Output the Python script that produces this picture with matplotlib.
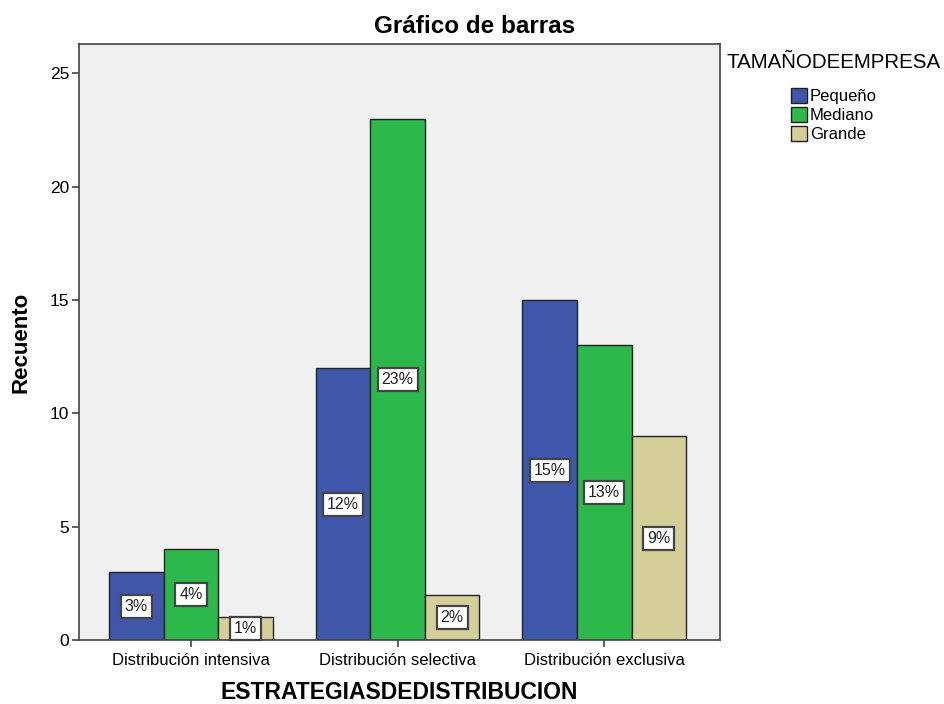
import numpy as np
import matplotlib.pyplot as plt

plt.rcParams['font.family'] = ['Liberation Sans', 'DejaVu Sans']

categories = ['Distribución intensiva', 'Distribución selectiva', 'Distribución exclusiva']
series_names = ['Pequeño', 'Mediano', 'Grande']
pequeno = [3, 12, 15]
mediano = [4, 23, 13]
grande = [1, 2, 9]
pequeno_lbl = ['3%', '12%', '15%']
mediano_lbl = ['4%', '23%', '13%']
grande_lbl = ['1%', '2%', '9%']
colors = ['#3e57ab', '#2db84b', '#d4cf98']


def main():
	fig = plt.figure(figsize=(9.44, 7.04), dpi=100)
	ax = fig.add_axes([0.0837, 0.0909, 0.679, 0.8466])
	ax.set_facecolor('#f0f0f0')

	x = np.arange(len(categories))
	w = 0.264
	values = [pequeno, mediano, grande]
	labels = [pequeno_lbl, mediano_lbl, grande_lbl]
	for i in range(3):
		bars = ax.bar(x + (i - 1) * w, values[i], w, color=colors[i], edgecolor='#222222',
			linewidth=1, label=series_names[i], zorder=2)
		for b, t in zip(bars, labels[i]):
			ax.text(b.get_x() + b.get_width() / 2, b.get_height() / 2, t, ha='center', va='center',
				fontsize=11.5, color='#222222', zorder=3,
				bbox=dict(boxstyle='square,pad=0.25', facecolor='white', edgecolor='#444444', linewidth=1.6))

	ax.set_xlim(-0.542, 2.56)
	ax.set_ylim(0, 26.3)
	ax.set_yticks([0, 5, 10, 15, 20, 25])
	ax.set_xticks(x)
	ax.set_xticklabels(categories, fontsize=12)
	ax.tick_params(axis='y', labelsize=12.5, length=5, width=1.2, color='#444444', pad=2)
	ax.tick_params(axis='x', length=5, width=1.2, color='#444444', pad=4)
	for s in ax.spines.values():
		s.set_color('#444444')
		s.set_linewidth(1.2)

	fig.text(0.503, 0.963, 'Gráfico de barras', fontsize=17.5, fontweight='bold', ha='center', va='center')
	ax.set_ylabel('Recuento', fontsize=16, fontweight='bold')
	ax.yaxis.set_label_coords(-0.074, 0.5)
	ax.set_xlabel('ESTRATEGIASDEDISTRIBUCION', fontsize=16.5, fontweight='bold', labelpad=10)

	fig.text(0.770, 0.911, 'TAMAÑODEEMPRESA', fontsize=14.8, va='center')
	fig.legend(loc='upper left', bbox_to_anchor=(0.8295, 0.887), frameon=False, fontsize=12,
		handlelength=0.95, handleheight=1.0, handletextpad=0.15, labelspacing=0.18, borderpad=0)

	fig.savefig('out.png', dpi=100)


if __name__ == '__main__':
	main()
